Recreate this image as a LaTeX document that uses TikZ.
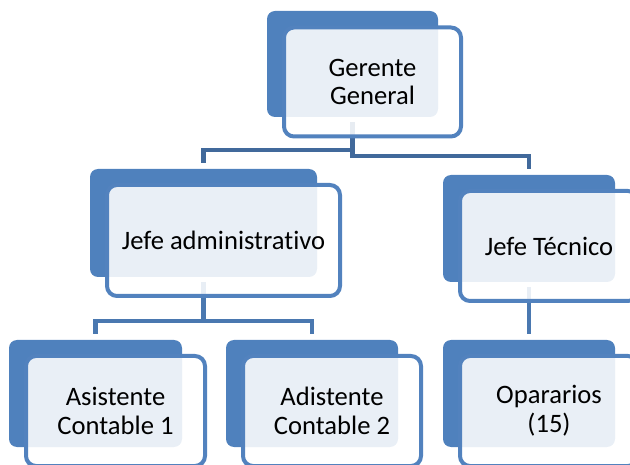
\documentclass[tikz,border=0pt]{standalone}
\usepackage{fontspec}
\setmainfont{Carlito}[Ligatures=NoCommon]
\definecolor{boxblue}{HTML}{4F81BD}
\definecolor{rimblue}{HTML}{5282BE}
\definecolor{linktop}{HTML}{41699B}
\definecolor{linklow}{HTML}{4A78B0}
\tikzset{
  backbox/.style={draw=none, fill=boxblue, rounded corners=8pt, inner sep=0pt},
  frontbox/.style={draw=rimblue, line width=4pt, fill=white, fill opacity=0.88,
    text opacity=1, rounded corners=10pt, inner sep=0pt, align=center,
    font=\fontsize{26.6}{28.8}\selectfont},
  linkup/.style={draw=linktop, line width=4.5pt},
  linkdown/.style={draw=linklow, line width=4.5pt}
}
\begin{document}
\begin{tikzpicture}[x=1pt,y=-1pt]
\useasboundingbox (0,0) rectangle (630,465);
\clip (0,0) rectangle (630,465);

% solid blue plates behind each card
\node[backbox, minimum width=171pt, minimum height=106pt] (ggb) at (352.5,64) {};
\node[backbox, minimum width=227pt, minimum height=108pt] (jab) at (203.5,223) {};
\node[backbox, minimum width=172pt, minimum height=107pt] (jtb) at (529,228.5) {};
\node[backbox, minimum width=173pt, minimum height=107pt] (a1b) at (95.5,393.5) {};
\node[backbox, minimum width=172pt, minimum height=107pt] (a2b) at (312,393.5) {};
\node[backbox, minimum width=172pt, minimum height=107pt] (opb) at (529,393.5) {};

% hierarchy links
\draw[linkup] ([yshift=-5pt]ggb.south) |- ([yshift=19pt]jab.north) -- ([yshift=6pt]jab.north);
\draw[linkup] ([yshift=-5pt]ggb.south) |- ([yshift=19pt]jtb.north) -- ([yshift=6pt]jtb.north);
\draw[linkdown] ([yshift=-5pt]jab.south) |- ([yshift=19pt]a1b.north) -- ([yshift=6pt]a1b.north);
\draw[linkdown] ([yshift=-5pt]jab.south) |- ([yshift=19pt]a2b.north) -- ([yshift=6pt]a2b.north);
\draw[linkdown] ([yshift=-5pt]jtb.south) -- ([yshift=6pt]opb.north);

% translucent cards with the labels
\node[frontbox, minimum width=177pt, minimum height=109pt] (gg) at (372.5,82) {Gerente\\General};
\node[frontbox, minimum width=233pt, minimum height=111pt] (ja) at (223.5,240.5) {Jefe administrativo};
\node[frontbox, minimum width=178pt, minimum height=110pt] (jt) at (549,246) {Jefe Técnico};
\node[frontbox, minimum width=179pt, minimum height=110pt] (a1) at (115.5,411) {Asistente\\Contable 1};
\node[frontbox, minimum width=178pt, minimum height=110pt] (a2) at (332,411) {Adistente\\Contable 2};
\node[frontbox, minimum width=178pt, minimum height=110pt] (op) at (549,411) {Opararios\\(15)};
\end{tikzpicture}
\end{document}
